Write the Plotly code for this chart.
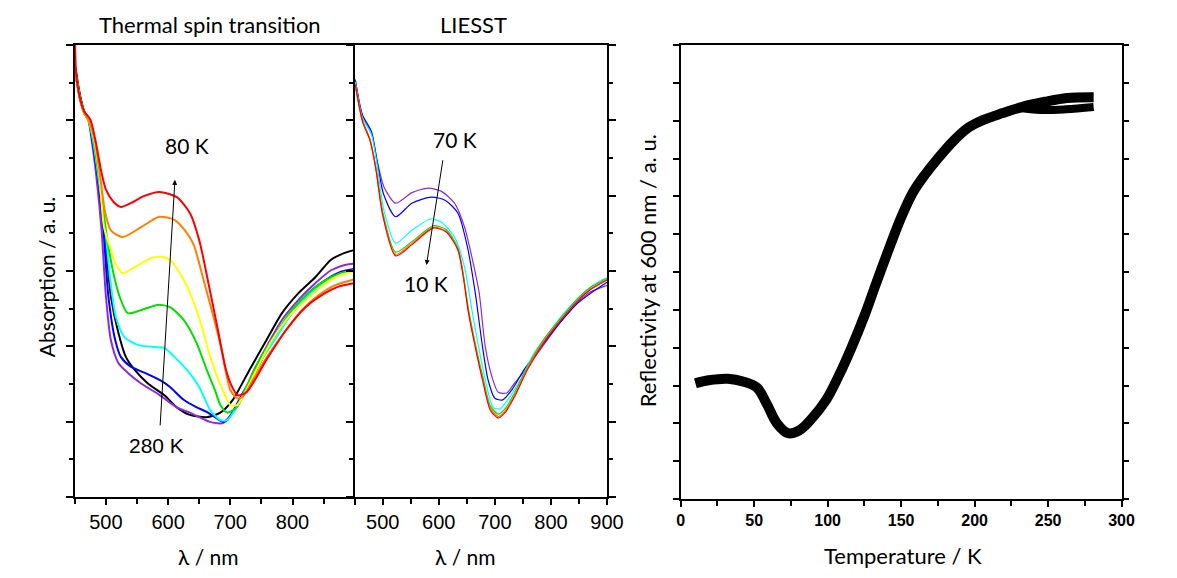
#%%
import plotly.graph_objects as go

#%% Data - thermal spin transition (absorption vs wavelength, 280 K -> 80 K)
wl_black = [451, 458, 465, 472, 480, 488, 499, 508, 520, 532, 546, 567, 594, 614, 635, 662, 684, 704, 731, 758, 783, 810, 837, 862, 884, 900]
abs_black = [5.70, 5.35, 5.12, 5.02, 4.76, 4.32, 3.41, 2.66, 2.18, 1.86, 1.69, 1.51, 1.35, 1.19, 1.09, 1.06, 1.12, 1.29, 1.69, 2.08, 2.44, 2.71, 2.92, 3.15, 3.24, 3.28]

wl_purple = [451, 458, 465, 472, 477, 484, 493, 500, 508, 520, 535, 556, 587, 614, 635, 650, 666, 679, 688, 704, 720, 736, 758, 783, 810, 837, 862, 884, 900]
abs_purple = [5.63, 5.30, 5.10, 5.00, 4.74, 4.30, 3.54, 2.66, 2.08, 1.78, 1.65, 1.51, 1.35, 1.19, 1.12, 1.06, 1.00, 0.98, 0.98, 1.12, 1.33, 1.65, 1.99, 2.35, 2.62, 2.84, 3.01, 3.08, 3.10]

wl_blue = [451, 458, 465, 472, 478, 486, 496, 504, 515, 524, 540, 562, 587, 603, 625, 646, 662, 677, 688, 695, 704, 720, 742, 767, 799, 826, 853, 878, 900]
abs_blue = [5.63, 5.30, 5.10, 5.00, 4.74, 4.30, 3.54, 2.66, 2.08, 1.86, 1.73, 1.65, 1.55, 1.46, 1.29, 1.19, 1.13, 1.05, 1.00, 1.02, 1.13, 1.38, 1.69, 2.08, 2.44, 2.71, 2.88, 2.99, 3.03]

wl_cyan = [451, 458, 465, 472, 479, 487, 499, 507, 516, 530, 551, 578, 594, 610, 630, 650, 668, 684, 695, 710, 726, 747, 774, 799, 826, 853, 878, 900]
abs_cyan = [5.63, 5.30, 5.10, 5.00, 4.74, 4.30, 3.54, 2.88, 2.39, 2.12, 2.02, 1.99, 1.98, 1.86, 1.69, 1.46, 1.15, 1.02, 1.02, 1.19, 1.46, 1.78, 2.12, 2.44, 2.68, 2.85, 2.97, 3.01]

wl_green = [451, 458, 465, 472, 480, 488, 500, 511, 522, 535, 556, 583, 603, 625, 646, 662, 677, 684, 695, 710, 726, 747, 774, 799, 826, 853, 878, 900]
abs_green = [5.63, 5.30, 5.10, 5.00, 4.74, 4.30, 3.54, 3.01, 2.66, 2.44, 2.48, 2.55, 2.52, 2.35, 2.04, 1.69, 1.38, 1.22, 1.12, 1.19, 1.46, 1.82, 2.18, 2.48, 2.71, 2.88, 2.97, 3.00]

wl_yellow = [451, 458, 465, 472, 481, 489, 497, 508, 515, 527, 546, 572, 587, 603, 619, 635, 651, 666, 681, 690, 700, 711, 720, 742, 767, 799, 826, 853, 878, 900]
abs_yellow = [5.63, 5.30, 5.10, 5.00, 4.74, 4.30, 3.58, 3.28, 3.11, 2.97, 3.05, 3.17, 3.19, 3.15, 2.97, 2.71, 2.35, 1.91, 1.55, 1.38, 1.22, 1.22, 1.33, 1.69, 2.08, 2.44, 2.65, 2.84, 2.95, 2.99]

wl_orange = [451, 458, 465, 472, 482, 490, 499, 508, 527, 556, 586, 610, 627, 641, 657, 673, 685, 700, 711, 720, 736, 763, 790, 815, 842, 868, 900]
abs_orange = [5.63, 5.30, 5.10, 5.00, 4.74, 4.30, 3.77, 3.54, 3.45, 3.58, 3.72, 3.68, 3.54, 3.35, 2.88, 2.39, 1.99, 1.42, 1.31, 1.33, 1.55, 1.91, 2.22, 2.48, 2.68, 2.81, 2.89]

wl_red = [450, 452, 458, 465, 475, 483, 493, 500, 512, 524, 540, 560, 586, 614, 635, 650, 666, 680, 693, 703, 712, 726, 758, 790, 821, 853, 873, 900]
abs_red = [6.30, 5.63, 5.30, 5.12, 5.01, 4.74, 4.30, 4.08, 3.92, 3.85, 3.90, 3.99, 4.05, 3.98, 3.77, 3.41, 2.79, 2.22, 1.69, 1.46, 1.35, 1.39, 1.82, 2.22, 2.52, 2.71, 2.79, 2.84]

#%% Data - LIESST (70 K -> 10 K)
li_wl_purple = [451, 464, 480, 490, 502, 523, 552, 581, 604, 628, 646, 660, 672, 683, 695, 706, 721, 735, 758, 788, 818, 846, 870, 900]
li_abs_purple = [5.54, 5.04, 4.83, 4.47, 4.12, 3.90, 4.04, 4.10, 4.06, 3.90, 3.58, 3.15, 2.71, 1.99, 1.59, 1.39, 1.38, 1.51, 1.72, 2.03, 2.33, 2.57, 2.72, 2.81]

li_wl_blue = [451, 464, 480, 490, 502, 523, 552, 587, 611, 634, 651, 665, 678, 688, 700, 714, 730, 753, 788, 818, 846, 870, 900]
li_abs_blue = [5.54, 5.07, 4.85, 4.45, 4.01, 3.72, 3.90, 3.98, 3.94, 3.77, 3.32, 2.71, 1.99, 1.55, 1.31, 1.29, 1.42, 1.70, 2.05, 2.33, 2.56, 2.70, 2.85]

li_wl_cyan = [451, 464, 480, 490, 502, 523, 552, 585, 604, 628, 646, 660, 671, 683, 697, 709, 723, 748, 770, 800, 828, 858, 888, 900]
li_abs_cyan = [5.51, 5.03, 4.81, 4.41, 3.81, 3.37, 3.54, 3.69, 3.65, 3.45, 3.05, 2.44, 1.99, 1.55, 1.19, 1.17, 1.29, 1.59, 1.91, 2.22, 2.48, 2.71, 2.87, 2.91]

li_wl = [451, 464, 477, 488, 500, 523, 552, 590, 613, 634, 643, 653, 665, 678, 692, 706, 718, 735, 758, 788, 818, 846, 870, 900]
li_abs_green = [5.48, 5.00, 4.76, 4.37, 3.78, 3.25, 3.39, 3.60, 3.55, 3.31, 2.99, 2.49, 2.04, 1.61, 1.21, 1.10, 1.17, 1.38, 1.73, 2.10, 2.38, 2.62, 2.78, 2.90]
li_abs_orange = [5.47, 4.99, 4.75, 4.35, 3.76, 3.22, 3.37, 3.58, 3.53, 3.29, 2.97, 2.46, 2.01, 1.58, 1.18, 1.07, 1.14, 1.35, 1.71, 2.08, 2.36, 2.60, 2.76, 2.89]
li_abs_red = [5.47, 4.98, 4.74, 4.34, 3.74, 3.20, 3.35, 3.57, 3.52, 3.28, 2.95, 2.44, 1.99, 1.55, 1.15, 1.05, 1.12, 1.33, 1.69, 2.06, 2.35, 2.59, 2.75, 2.88]

#%% Data - reflectivity at 600 nm vs temperature
temp = [10, 19, 32, 43, 52, 59, 65.5, 73, 81, 89.5, 99, 107.6, 116, 125, 133, 141, 150, 158, 166, 175, 186, 196, 206, 219, 232, 248, 263, 281]
refl = [1.53, 1.57, 1.59, 1.55, 1.47, 1.24, 1.00, 0.87, 0.91, 1.07, 1.31, 1.63, 1.99, 2.42, 2.85, 3.27, 3.72, 4.05, 4.28, 4.50, 4.74, 4.91, 5.01, 5.10, 5.18, 5.25, 5.30, 5.31]
temp_branch = [228, 245, 262, 281]
refl_branch = [5.17, 5.14, 5.15, 5.18]

wl_ticks = [500, 600, 700, 800, 900]
temp_ticks = [0, 50, 100, 150, 200, 250, 300]

#%% Figure
fig = go.Figure()

thermal = [
    (wl_black, abs_black, 'black'),
    (wl_purple, abs_purple, '#8a2be2'),
    (wl_blue, abs_blue, '#0000ff'),
    (wl_cyan, abs_cyan, '#00ffff'),
    (wl_green, abs_green, '#00e000'),
    (wl_yellow, abs_yellow, '#ffff00'),
    (wl_orange, abs_orange, '#ff8000'),
    (wl_red, abs_red, '#ff0000'),
]
for x, y, c in thermal:
    fig.add_trace(go.Scatter(x=x, y=y, mode='lines', line=dict(color=c, width=2, shape='spline', smoothing=0.7),
                             xaxis='x', yaxis='y', showlegend=False, hoverinfo='skip'))

liesst = [
    (li_wl_purple, li_abs_purple, '#8a2be2'),
    (li_wl_blue, li_abs_blue, '#0000ff'),
    (li_wl_cyan, li_abs_cyan, '#00ffff'),
    (li_wl, li_abs_green, '#00e000'),
    (li_wl, li_abs_orange, '#ff8000'),
    (li_wl, li_abs_red, '#ff0000'),
]
for x, y, c in liesst:
    fig.add_trace(go.Scatter(x=x, y=y, mode='lines', line=dict(color=c, width=1.2, shape='spline', smoothing=0.7),
                             xaxis='x2', yaxis='y2', showlegend=False, hoverinfo='skip'))

fig.add_trace(go.Scatter(x=temp, y=refl, mode='lines', line=dict(color='black', width=10, shape='spline', smoothing=1),
                         xaxis='x3', yaxis='y3', showlegend=False, hoverinfo='skip'))
fig.add_trace(go.Scatter(x=temp_branch, y=refl_branch, mode='lines', line=dict(color='black', width=8, shape='spline'),
                         xaxis='x3', yaxis='y3', showlegend=False, hoverinfo='skip'))

#%% Axes
# the page body has an 8 px margin: keep the figure small enough to fit without scrollbars
OFF = 8
W, H = 1177 - 2 * OFF, 578 - 2 * OFF

def px(x):
    return (x - OFF) / W

def py(y):
    return 1 - (y - OFF) / H

dom_left = [px(72), px(357)]
dom_mid = [px(357), px(614)]
dom_right = [px(689), px(1138)]
dom_y = [py(497), py(45)]
dom_y3 = [py(499), py(45)]

tickfont = dict(family='Liberation Sans, Arial', size=20, color='black')
boldfont = dict(family='Liberation Sans Narrow, Liberation Sans, Arial', size=16, color='black', weight='bold')

def wl_axis(domain, labels, anchor):
    return dict(domain=domain, anchor=anchor, range=[450, 900], tickmode='array', tickvals=wl_ticks,
                ticktext=labels, ticks='outside', ticklen=6, tickwidth=1.5, tickcolor='black',
                showline=True, linecolor='black', linewidth=2, mirror=True, showgrid=False, zeroline=False,
                tickfont=tickfont,
                minor=dict(tickvals=[450, 550, 650, 750, 850], ticks='outside', ticklen=5, tickwidth=1.5, tickcolor='black'))

def y_axis(domain, anchor, mirror, ticklen=7):
    return dict(domain=domain, anchor=anchor, range=[0, 6], tickmode='linear', tick0=0, dtick=1,
                ticks='outside', ticklen=ticklen, tickwidth=1.5, tickcolor='black', showticklabels=False,
                showline=True, linecolor='black', linewidth=2, mirror=mirror, showgrid=False, zeroline=False,
                minor=dict(dtick=0.5, ticks='outside', ticklen=4, tickwidth=1.5, tickcolor='black'))

def top_axis(over, anchor, rng, step):
    return dict(overlaying=over, anchor=anchor, side='top', range=rng, tickmode='linear', tick0=rng[0], dtick=step,
                ticks='inside', ticklen=4, tickwidth=1, tickcolor='black', showticklabels=False,
                showgrid=False, zeroline=False, showline=False)

fig.update_layout(
    width=W, height=H,
    margin=dict(l=0, r=0, t=0, b=0),
    paper_bgcolor='white', plot_bgcolor='white',
    xaxis=wl_axis(dom_left, ['500', '600', '700', '800', ''], 'y'),
    yaxis=y_axis(dom_y, 'x', False),
    xaxis2=wl_axis(dom_mid, ['500', '600', '700', '800', '900'], 'y2'),
    yaxis2=y_axis(dom_y, 'x2', 'ticks'),
    xaxis3=dict(domain=dom_right, anchor='y3', range=[0, 300], tickmode='array', tickvals=temp_ticks,
                ticks='outside', ticklen=6, tickwidth=1.5, tickcolor='black', tickfont=boldfont,
                showline=True, linecolor='black', linewidth=1.5, mirror=True, showgrid=False, zeroline=False,
                minor=dict(dtick=25, ticks='outside', ticklen=5, tickwidth=1.5, tickcolor='black')),
    yaxis3=dict(domain=dom_y3, anchor='x3', range=[0, 6], tickmode='linear', tick0=0, dtick=0.5,
                ticks='outside', ticklen=6, tickwidth=1.5, tickcolor='black', showticklabels=False,
                showline=True, linecolor='black', linewidth=1.5, mirror='ticks', showgrid=False, zeroline=False),
    xaxis4=top_axis('x', 'y', [450, 900], 50),
    xaxis5=top_axis('x2', 'y2', [450, 900], 50),
    xaxis6=top_axis('x3', 'y3', [0, 300], 25),
)

#%% Text and arrows
calibri = 'Lato, Open Sans, sans-serif'
notes = [
    ('Thermal spin transition', 210, 25, 22),
    ('LIESST', 478, 25, 22),
    ('λ / nm', 208, 556, 21),
    ('λ / nm', 470, 556, 21),
    ('Temperature / K', 915, 555, 22),
]
for text, x, y, size in notes:
    fig.add_annotation(text=text, x=px(x), y=py(y), xref='paper', yref='paper',
                       showarrow=False, font=dict(family=calibri, size=size, color='black'),
                       xanchor='center', yanchor='middle')

fig.add_annotation(text='Absorption / a. u.', x=px(28), y=py(277), xref='paper', yref='paper',
                   textangle=-90, showarrow=False, font=dict(family=calibri, size=21, color='black'))
fig.add_annotation(text='Reflectivity at 600 nm / a. u.', x=px(655), y=py(271), xref='paper', yref='paper',
                   textangle=-90, showarrow=False, font=dict(family=calibri, size=22, color='black'))

# temperature labels inside the spectra panels
fig.add_annotation(text='80 K', x=630, y=4.67, xref='x', yref='y', showarrow=False,
                   font=dict(family=calibri, size=21, color='black'))
fig.add_annotation(text='280 K', x=581, y=0.69, xref='x', yref='y', showarrow=False,
                   font=dict(family='Liberation Sans, Arial', size=21, color='black'))
fig.add_annotation(text='70 K', x=628, y=4.75, xref='x2', yref='y2', showarrow=False,
                   font=dict(family=calibri, size=21, color='black'))
fig.add_annotation(text='10 K', x=578, y=2.83, xref='x2', yref='y2', showarrow=False,
                   font=dict(family=calibri, size=21, color='black'))

fig.add_annotation(text='', x=611, y=4.21, ax=587, ay=0.93, xref='x', yref='y', axref='x', ayref='y',
                   showarrow=True, arrowhead=2, arrowsize=1, arrowwidth=1, arrowcolor='black')
fig.add_annotation(text='', x=578, y=3.08, ax=607.6, ay=4.49, xref='x2', yref='y2', axref='x2', ayref='y2',
                   showarrow=True, arrowhead=2, arrowsize=1, arrowwidth=1, arrowcolor='black')

fig.write_html("out.html")
